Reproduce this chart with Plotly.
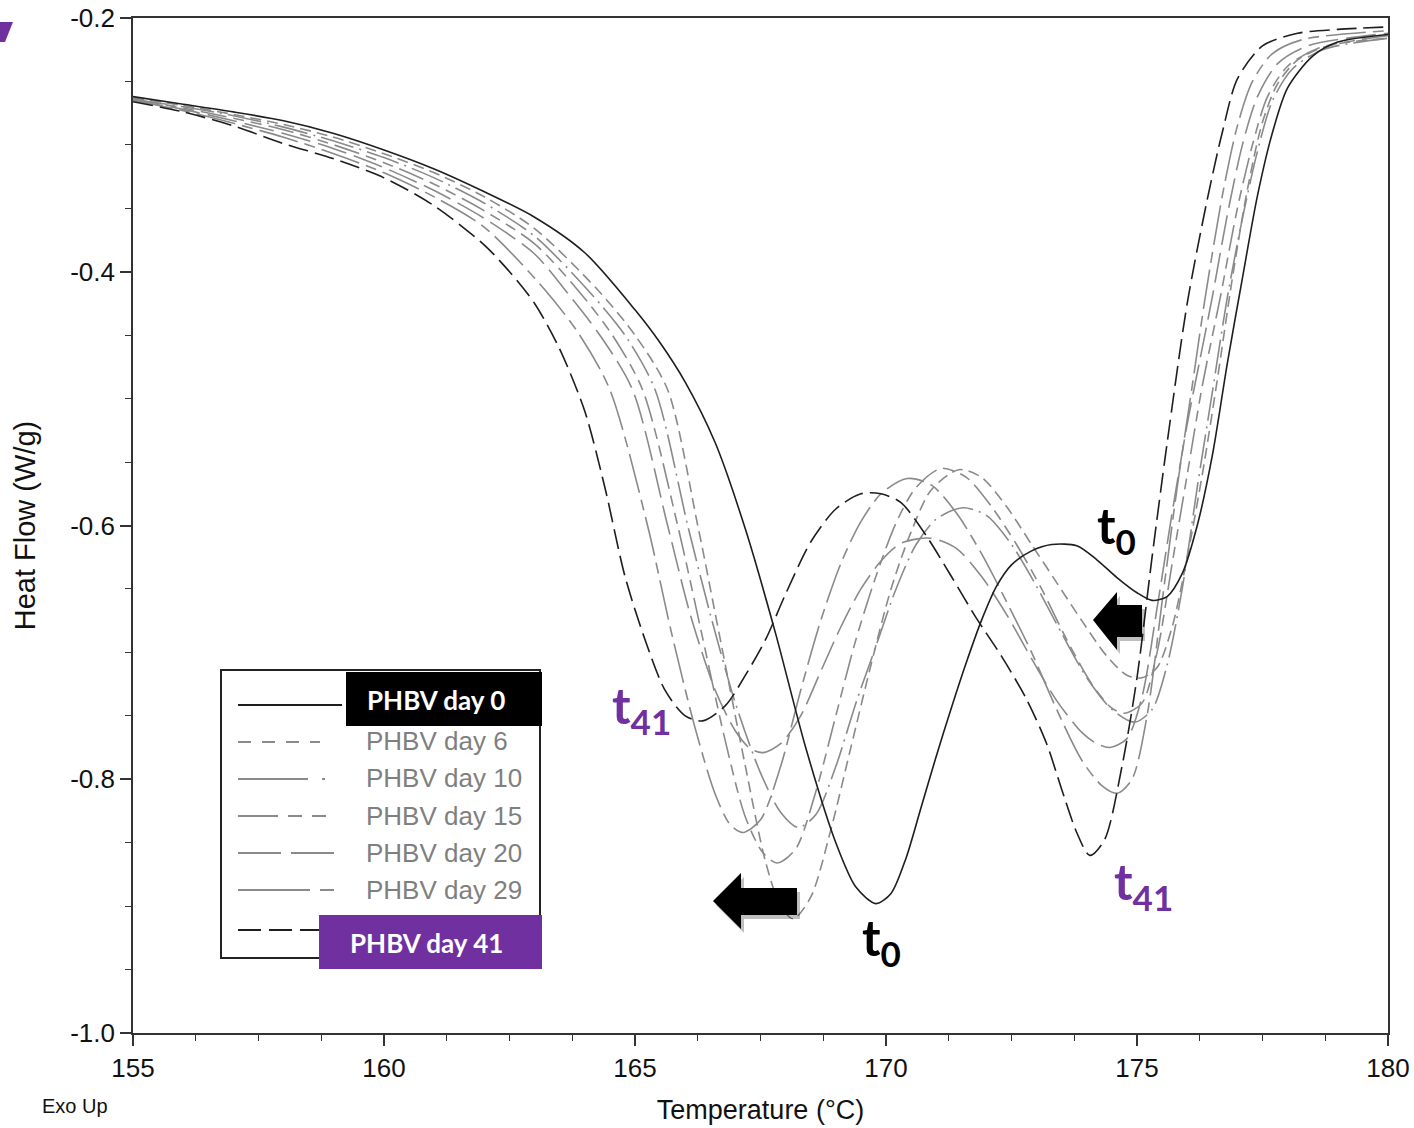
import plotly.graph_objects as go

# ---------------- data ----------------
t_day0 = [155, 156, 157, 158, 159, 160, 161, 162, 163, 164, 165, 165.5, 166.0, 166.6, 167.2, 167.8, 168.4, 169.0,
          169.4, 169.8, 170.1, 170.4, 170.7, 171.0, 171.3, 171.6, 171.9, 172.2, 172.5, 172.9, 173.3, 173.8, 174.2,
          174.6, 175.0, 175.3, 175.6, 175.9, 176.2, 176.5, 176.8, 177.1, 177.4, 177.7, 178.0, 178.5, 179.0, 180.0]
hf_day0 = [-0.262, -0.268, -0.274, -0.281, -0.291, -0.304, -0.319, -0.337, -0.357, -0.385, -0.430, -0.456, -0.487,
           -0.535, -0.603, -0.685, -0.775, -0.850, -0.885, -0.898, -0.890, -0.862, -0.822, -0.782, -0.744, -0.708,
           -0.675, -0.648, -0.631, -0.620, -0.615, -0.616, -0.627, -0.641, -0.653, -0.659, -0.656, -0.638, -0.600,
           -0.545, -0.472, -0.405, -0.340, -0.290, -0.255, -0.230, -0.219, -0.213]

t_day6 = [155, 156, 157, 158, 159, 160, 161, 162, 163, 164.25, 165.0, 165.65, 166.25, 166.7, 167.2, 167.6, 167.9,
          168.15, 168.5, 168.9, 169.3, 169.7, 170.1, 170.5, 170.9, 171.45, 171.9, 172.4, 172.9, 173.4, 173.9, 174.4,
          174.8, 175.1, 175.4, 175.7, 176.0, 176.3, 176.6, 176.9, 177.2, 177.5, 177.8, 178.2, 178.8, 180]
hf_day6 = [-0.263, -0.269, -0.276, -0.284, -0.294, -0.307, -0.322, -0.341, -0.366, -0.414, -0.450, -0.493, -0.600,
           -0.690, -0.790, -0.865, -0.900, -0.910, -0.893, -0.840, -0.775, -0.710, -0.650, -0.605, -0.572, -0.556,
           -0.562, -0.585, -0.615, -0.645, -0.675, -0.703, -0.718, -0.720, -0.712, -0.680, -0.625, -0.560, -0.485,
           -0.405, -0.335, -0.282, -0.252, -0.233, -0.222, -0.216]

t_day10 = [155, 156, 157, 158, 159, 160, 161, 162, 163, 164.05, 164.8, 165.4, 166.05, 166.5, 167.0, 167.5, 167.9,
           168.25, 168.6, 169.0, 169.4, 169.8, 170.2, 170.6, 171.0, 171.53, 172.0, 172.5, 173.0, 173.5, 174.0, 174.5,
           174.95, 175.3, 175.6, 175.9, 176.2, 176.5, 176.8, 177.1, 177.4, 177.7, 178.1, 178.7, 180]
hf_day10 = [-0.264, -0.270, -0.277, -0.286, -0.297, -0.310, -0.326, -0.346, -0.372, -0.414, -0.450, -0.493, -0.600,
            -0.670, -0.740, -0.795, -0.826, -0.838, -0.828, -0.790, -0.740, -0.695, -0.650, -0.615, -0.595, -0.586,
            -0.592, -0.615, -0.648, -0.685, -0.720, -0.745, -0.755, -0.745, -0.710, -0.650, -0.570, -0.495, -0.420,
            -0.358, -0.305, -0.265, -0.240, -0.225, -0.216]

t_day15 = [155, 156, 157, 158, 159, 160, 161, 162, 163, 163.85, 164.55, 165.15, 165.85, 166.3, 166.8, 167.2, 167.55,
           167.83, 168.2, 168.6, 169.0, 169.4, 169.8, 170.2, 170.6, 171.1, 171.6, 172.1, 172.6, 173.1, 173.6, 174.1,
           174.5, 174.75, 175.1, 175.4, 175.7, 176.0, 176.3, 176.66, 177.0, 177.3, 177.6, 178.0, 178.6, 180]
hf_day15 = [-0.264, -0.271, -0.279, -0.288, -0.300, -0.314, -0.331, -0.352, -0.378, -0.414, -0.450, -0.493, -0.600,
            -0.680, -0.770, -0.830, -0.858, -0.866, -0.855, -0.810, -0.750, -0.690, -0.640, -0.598, -0.570, -0.555,
            -0.562, -0.585, -0.615, -0.650, -0.690, -0.725, -0.744, -0.748, -0.740, -0.700, -0.630, -0.560, -0.490,
            -0.420, -0.350, -0.300, -0.262, -0.238, -0.224, -0.214]

t_day20 = [155, 156, 157, 158, 159, 160, 161, 162, 163, 163.6, 164.3, 164.95, 165.65, 166.1, 166.6, 167.0, 167.3,
           167.55, 167.9, 168.3, 168.7, 169.1, 169.5, 169.9, 170.3, 170.88, 171.4, 171.9, 172.4, 172.9, 173.4, 173.9,
           174.2, 174.46, 174.8, 175.1, 175.4, 175.7, 176.0, 176.25, 176.5, 176.8, 177.1, 177.4, 177.8, 178.4, 180]
hf_day20 = [-0.265, -0.272, -0.281, -0.291, -0.303, -0.318, -0.336, -0.358, -0.386, -0.414, -0.450, -0.493, -0.600,
            -0.670, -0.730, -0.762, -0.776, -0.779, -0.772, -0.750, -0.715, -0.680, -0.650, -0.628, -0.614, -0.610,
            -0.618, -0.640, -0.670, -0.705, -0.738, -0.763, -0.772, -0.775, -0.768, -0.735, -0.665, -0.590, -0.520,
            -0.470, -0.420, -0.355, -0.300, -0.262, -0.236, -0.222, -0.212]

t_day29 = [155, 156, 157, 158, 159, 160, 161, 162, 163.2, 163.9, 164.5, 165.25, 165.7, 166.2, 166.6, 166.9, 167.15,
           167.5, 167.9, 168.3, 168.7, 169.1, 169.5, 169.9, 170.42, 170.9, 171.4, 171.9, 172.4, 172.9, 173.4, 173.9,
           174.3, 174.6, 174.9, 175.2, 175.5, 175.8, 176.1, 176.36, 176.7, 177.0, 177.3, 177.7, 178.3, 180]
hf_day29 = [-0.265, -0.273, -0.283, -0.294, -0.307, -0.322, -0.341, -0.365, -0.414, -0.450, -0.493, -0.600, -0.680,
            -0.760, -0.812, -0.836, -0.842, -0.832, -0.790, -0.730, -0.675, -0.630, -0.597, -0.575, -0.563, -0.568,
            -0.590, -0.622, -0.660, -0.700, -0.745, -0.785, -0.805, -0.811, -0.800, -0.750, -0.660, -0.570, -0.490,
            -0.420, -0.340, -0.285, -0.250, -0.228, -0.217, -0.210]

t_day41 = [155, 156, 157, 158, 159, 160, 161, 162, 162.5, 163, 163.5, 164, 164.4, 164.8, 165.2, 165.6, 166.0, 166.35,
           166.8, 167.2, 167.6, 168.0, 168.5, 169.0, 169.5, 169.9, 170.3, 170.8, 171.3, 171.8, 172.3, 172.8, 173.2,
           173.5, 173.8, 174.06, 174.35, 174.7, 175.0, 175.3, 175.6, 176.0, 176.4, 176.7, 177.0, 177.5, 178.2, 179,
           180]
hf_day41 = [-0.266, -0.274, -0.285, -0.299, -0.311, -0.326, -0.348, -0.379, -0.400, -0.425, -0.461, -0.510, -0.570,
            -0.640, -0.690, -0.730, -0.750, -0.754, -0.742, -0.718, -0.690, -0.654, -0.613, -0.587, -0.575, -0.575,
            -0.582, -0.608, -0.640, -0.673, -0.703, -0.737, -0.772, -0.808, -0.842, -0.860, -0.848, -0.790, -0.720,
            -0.625, -0.535, -0.425, -0.343, -0.290, -0.248, -0.222, -0.212, -0.209, -0.207]

series_names = ["PHBV day 0", "PHBV day 6", "PHBV day 10", "PHBV day 15", "PHBV day 20", "PHBV day 29", "PHBV day 41"]
x_ticks = [155, 160, 165, 170, 175, 180]
y_ticks = [-1.0, -0.8, -0.6, -0.4, -0.2]
y_tick_labels = ["-1.0", "-0.8", "-0.6", "-0.4", "-0.2"]

# ---------------- styling ----------------
BLACK = "#1e1e1e"
GREY = "#8a8a8a"
PURPLE = "#7030A0"
styles = {
    "PHBV day 0": (BLACK, "solid"),
    "PHBV day 6": (GREY, "11px,6px"),
    "PHBV day 10": (GREY, "34px,6px,2px,6px"),
    "PHBV day 15": (GREY, "26px,7px,11px,7px,11px,7px"),
    "PHBV day 20": (GREY, "30px,8px"),
    "PHBV day 29": (GREY, "40px,7px,11px,7px"),
    "PHBV day 41": (BLACK, "20px,7px"),
}
legend_dash = {
    "PHBV day 0": "solid",
    "PHBV day 6": "13px,11px",
    "PHBV day 10": "70px,14px,3px,20px",
    "PHBV day 15": "40px,10px,14px,10px,14px,20px",
    "PHBV day 20": "43px,10px",
    "PHBV day 29": "72px,10px,14px,20px",
    "PHBV day 41": "23px,8px",
}
data = {
    "PHBV day 0": (t_day0, hf_day0),
    "PHBV day 6": (t_day6, hf_day6),
    "PHBV day 10": (t_day10, hf_day10),
    "PHBV day 15": (t_day15, hf_day15),
    "PHBV day 20": (t_day20, hf_day20),
    "PHBV day 29": (t_day29, hf_day29),
    "PHBV day 41": (t_day41, hf_day41),
}

fig = go.Figure()
draw_order = ["PHBV day 6", "PHBV day 10", "PHBV day 15", "PHBV day 20", "PHBV day 29", "PHBV day 0", "PHBV day 41"]
for name in draw_order:
    xs, ys = data[name]
    col, dash = styles[name]
    fig.add_trace(go.Scatter(x=xs, y=ys, mode="lines", name=name,
                             line=dict(color=col, width=1.6, dash=dash, shape="spline", smoothing=0.8),
                             showlegend=False))

# plot-area geometry (pixels) for decorative overlay placement
L, R, T, B = 133, 1388, 18, 1033
W_FIG, H_FIG = 1414, 1128


def PX(px):
    return (px - L) / (R - L)


def PY(py):
    return (B - py) / (B - T)


shapes = []
annotations = []

# manual legend box
shapes.append(dict(type="rect", xref="paper", yref="paper", x0=PX(221), x1=PX(540), y0=PY(958), y1=PY(670),
                   line=dict(color="#222", width=2), fillcolor="white", layer="above"))
legend_rows = {  # name: (y pixel, sample end)
    "PHBV day 0": (705, 342),
    "PHBV day 6": (742, 320),
    "PHBV day 10": (779, 325),
    "PHBV day 15": (816, 330),
    "PHBV day 20": (853, 335),
    "PHBV day 29": (890, 335),
    "PHBV day 41": (930, 330),
}
for name in series_names:
    ypx, xend = legend_rows[name]
    col = styles[name][0]
    shapes.append(dict(type="line", xref="paper", yref="paper", x0=PX(238), x1=PX(xend), y0=PY(ypx), y1=PY(ypx),
                       line=dict(color=col, width=2, dash=legend_dash[name]), layer="above"))
# highlighted labels
shapes.append(dict(type="rect", xref="paper", yref="paper", x0=PX(346), x1=PX(542), y0=PY(726), y1=PY(672),
                   line=dict(width=0), fillcolor="black", layer="above"))
shapes.append(dict(type="rect", xref="paper", yref="paper", x0=PX(319), x1=PX(542), y0=PY(969), y1=PY(915),
                   line=dict(width=0), fillcolor=PURPLE, layer="above"))
annotations.append(dict(xref="paper", yref="paper", x=PX(365), y=PY(700), xanchor="left", yanchor="middle",
                        text="<b>PHBV day 0</b>", showarrow=False,
                        font=dict(family="Lato, Open Sans, sans-serif", size=26, color="white")))
annotations.append(dict(xref="paper", yref="paper", x=PX(348), y=PY(943), xanchor="left", yanchor="middle",
                        text="<b>PHBV day 41</b>", showarrow=False,
                        font=dict(family="Lato, Open Sans, sans-serif", size=26, color="white")))
for name, ypx in [("PHBV day 6", 741), ("PHBV day 10", 778), ("PHBV day 15", 816), ("PHBV day 20", 853),
                  ("PHBV day 29", 890)]:
    annotations.append(dict(xref="paper", yref="paper", x=PX(364), y=PY(ypx), xanchor="left", yanchor="middle",
                            text=name, showarrow=False,
                            font=dict(family="Liberation Sans, Arial", size=26, color="#7f7f7f")))


# block arrows (pointing left)
def arrow_path(tip_x, tip_y, head_x, head_top, head_bot, shaft_top, shaft_bot, tail_x, dx=0, dy=0):
    pts = [(tip_x, tip_y), (head_x, head_top), (head_x, shaft_top), (tail_x, shaft_top), (tail_x, shaft_bot),
           (head_x, shaft_bot), (head_x, head_bot)]
    s = "M " + " L ".join(f"{PX(x + dx):.5f},{PY(y + dy):.5f}" for x, y in pts) + " Z"
    return s


for args in [(713, 901, 741, 873, 929, 888, 915, 797), (1093, 620, 1117, 592, 650, 605, 637, 1142)]:
    shapes.append(dict(type="path", xref="paper", yref="paper", path=arrow_path(*args, dx=3, dy=4),
                       fillcolor="rgba(0,0,0,0.25)", line=dict(width=0), layer="above"))
    shapes.append(dict(type="path", xref="paper", yref="paper", path=arrow_path(*args),
                       fillcolor="black", line=dict(width=0), layer="above"))

# t labels
TFONT = "Lato, Open Sans, sans-serif"
for txt, xpx, ypx, col in [("t<sub>41</sub>", 610, 708, PURPLE), ("t<sub>0</sub>", 1095, 528, "black"),
                           ("t<sub>0</sub>", 860, 940, "black"), ("t<sub>41</sub>", 1112, 884, PURPLE)]:
    annotations.append(dict(xref="paper", yref="paper", x=PX(xpx), y=PY(ypx), xanchor="left", yanchor="middle",
                            text=f"<b>{txt}</b>", showarrow=False, font=dict(family=TFONT, size=50, color=col)))

# "Exo Up"
annotations.append(dict(xref="paper", yref="paper", x=PX(40), y=PY(1106), xanchor="left", yanchor="middle",
                        text="Exo Up", showarrow=False,
                        font=dict(family="Liberation Sans, Arial", size=20, color="#111")))
# cropped purple fragment at top-left corner
shapes.append(dict(type="path", xref="paper", yref="paper",
                   path=f"M {PX(0):.5f},{PY(22):.5f} L {PX(13):.5f},{PY(22):.5f} L {PX(5):.5f},{PY(42):.5f} "
                        f"L {PX(0):.5f},{PY(42):.5f} Z",
                   fillcolor=PURPLE, line=dict(width=0), layer="above"))

AXFONT = "Liberation Sans, Arial"
fig.update_layout(
    width=W_FIG, height=H_FIG,
    margin=dict(l=L, r=W_FIG - R, t=T, b=H_FIG - B),
    paper_bgcolor="white", plot_bgcolor="white",
    shapes=shapes, annotations=annotations,
    showlegend=False,
    xaxis=dict(range=[155, 180], tickvals=x_ticks, ticktext=[str(v) for v in x_ticks], automargin=False,
               showgrid=False, zeroline=False, showline=True, linecolor="#333", linewidth=1.6, mirror=True,
               ticks="outside", ticklen=11, tickwidth=1.6, tickcolor="#333",
               minor=dict(dtick=1.25, tick0=155, ticks="outside", ticklen=6, tickwidth=1.4, tickcolor="#333",
                          showgrid=False),
               tickfont=dict(family=AXFONT, size=26, color="#111"),
               title=dict(text="Temperature (°C)", font=dict(family=AXFONT, size=27, color="#111"), standoff=18)),
    yaxis=dict(range=[-1.0, -0.2], tickvals=y_ticks, ticktext=y_tick_labels, automargin=False,
               showgrid=False, zeroline=False, showline=True, linecolor="#333", linewidth=1.6, mirror=True,
               ticks="outside", ticklen=11, tickwidth=1.6, tickcolor="#333",
               minor=dict(dtick=0.05, tick0=-1.0, ticks="outside", ticklen=6, tickwidth=1.4, tickcolor="#333",
                          showgrid=False),
               tickfont=dict(family=AXFONT, size=26, color="#111"),
               title=dict(text="Heat Flow (W/g)", font=dict(family=AXFONT, size=29, color="#111"),
                          standoff=26)),
)

fig.write_html("out.html", config={"displayModeBar": False},
               post_script="document.body.style.margin='0';document.body.style.padding='0';")
